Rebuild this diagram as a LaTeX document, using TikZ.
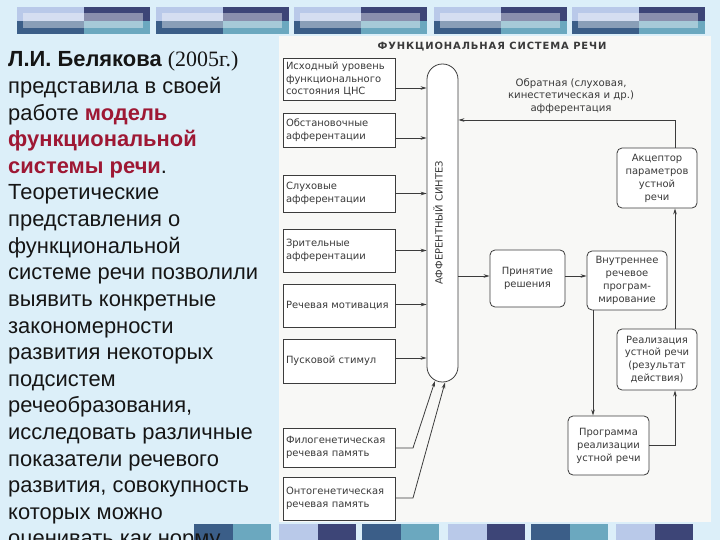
\documentclass[tikz,border=0pt]{standalone}
\usepackage{fontspec}
\setmainfont{Liberation Sans}
\newfontfamily\seriffont{Liberation Serif}
\newfontfamily\diafont{DejaVu Sans}
\newfontfamily\titlefont[LetterSpace=9]{DejaVu Sans}
\usetikzlibrary{arrows.meta,calc}
\definecolor{bgc}{HTML}{DCEFF9}
\definecolor{barlight}{HTML}{B9C9E9}
\definecolor{barnavy}{HTML}{3D4577}
\definecolor{bardark}{HTML}{3B5E88}
\definecolor{barteal}{HTML}{6BA8BF}
\definecolor{redtxt}{RGB}{158,24,52}
\definecolor{maintxt}{HTML}{151515}
\definecolor{linec}{HTML}{3C3C3C}
\definecolor{txtc}{HTML}{3A3A3A}
\definecolor{panel}{HTML}{F8F8F6}
\tikzset{
  dfont/.style={font=\diafont\fontsize{10}{13}\selectfont, text=txtc},
  lbox/.style={dfont, draw=linec, line width=0.8bp, fill=white, minimum width=112bp,
    text width=106bp, align=left, inner xsep=3bp, inner ysep=0pt},
  rbox/.style={dfont, draw=linec, line width=0.8bp, fill=white, rounded corners=5bp,
    align=center, inner sep=0pt},
  arr/.style={draw=linec, line width=0.8bp, -{Stealth[length=6bp,width=3.6bp]}},
  ln/.style={draw=linec, line width=0.8bp},
  mline/.style={anchor=base west, inner sep=0pt, text=maintxt,
    font=\fontsize{22}{26.6}\selectfont}
}
\begin{document}
\begin{tikzpicture}[x=1bp,y=-1bp]
\useasboundingbox (0,0) rectangle (720,540);
\fill[bgc] (0,0) rectangle (720,540);
% top bars
\foreach \x in {17,156,294,434,572}{
  \fill[barlight] (\x,7) rectangle ++(66.5,14);
  \fill[bardark] (\x,21) rectangle ++(66.5,13);
  \fill[barnavy] (\x+66.5,7) rectangle ++(66.5,14);
  \fill[barteal] (\x+66.5,21) rectangle ++(66.5,13);
  \fill[white,opacity=0.4] (\x+6,13) rectangle (\x+126,28);
}
% bottom bars
\foreach \x/\a/\b in {194/bardark/barteal,279/barlight/barnavy,362/bardark/barteal,
  448/barlight/barnavy,531/bardark/barteal,616/barlight/barnavy}{
  \fill[\a] (\x,524) rectangle ++(38.5,16);
  \fill[\b] (\x+38.5,524) rectangle ++(38.5,16);
}
% white panel
\fill[panel] (279,36) rectangle (711,522);

% left text
\node[mline] (t1) at (8,67) {\textbf{Л.И. Белякова} {\seriffont(2005г.)}};
\node[mline] (t2) at (8,93.6) {представила в своей};
\node[mline] (t3) at (8,120.2) {работе \textcolor{redtxt}{\textbf{модель}}};
\node[mline] (t4) at (8,146.8) {\textcolor{redtxt}{\textbf{функциональной}}};
\node[mline] (t5) at (8,173.4) {\textcolor{redtxt}{\textbf{системы речи}}.};
\node[mline] (t6) at (8,200) {Теоретические};
\node[mline] (t7) at (8,226.6) {представления о};
\node[mline] (t8) at (8,253.2) {функциональной};
\node[mline] (t9) at (8,279.8) {системе речи позволили};
\node[mline] (t10) at (8,306.4) {выявить конкретные};
\node[mline] (t11) at (8,333) {закономерности};
\node[mline] (t12) at (8,359.6) {развития некоторых};
\node[mline] (t13) at (8,386.2) {подсистем};
\node[mline] (t14) at (8,412.8) {речеобразования,};
\node[mline] (t15) at (8,439.4) {исследовать различные};
\node[mline] (t16) at (8,466) {показатели речевого};
\node[mline] (t17) at (8,492.6) {развития, совокупность};
\node[mline] (t18) at (8,519.2) {которых можно};
\node[mline] (t19) at (8,545.8) {оценивать как норму};

% title
\node[font=\titlefont\bfseries\fontsize{10}{12}\selectfont, text=txtc] (title) at (492,47) {ФУНКЦИОНАЛЬНАЯ СИСТЕМА РЕЧИ};

% left boxes
\node[lbox, minimum height=42bp] (b1) at (339,79) {Исходный уровень\\функционального\\состояния ЦНС};
\node[lbox, minimum height=34bp] (b2) at (339,130) {Обстановочные\\афферентации};
\node[lbox, minimum height=37bp] (b3) at (339,193.5) {Слуховые\\афферентации};
\node[lbox, minimum height=43bp] (b4) at (339,250.5) {Зрительные\\афферентации};
\node[lbox, minimum height=43bp] (b5) at (339,305.5) {Речевая мотивация};
\node[lbox, minimum height=44bp] (b6) at (339,361) {Пусковой стимул};
\node[lbox, minimum height=39bp] (b7) at (339,447.5) {Филогенетическая\\речевая память};
\node[lbox, minimum height=43bp] (b8) at (339,498.5) {Онтогенетическая\\речевая память};

% afferent synthesis capsule
\node[draw=linec, line width=0.8bp, fill=white, minimum width=31bp, minimum height=318bp,
  rounded corners=15.4bp, inner sep=0pt] (syn) at (442.5,223) {};
\node[rotate=90, font=\diafont\fontsize{10}{12}\selectfont, text=txtc] (syntxt) at (438,223) {АФФЕРЕНТНЫЙ СИНТЕЗ};

% right boxes
\node[rbox, minimum width=75bp, minimum height=57bp] (dec) at (527.5,278.5) {Принятие\\решения};
\node[rbox, minimum width=80bp, minimum height=59bp] (inner) at (627,280.5) {Внутреннее\\речевое\\програм-\\мирование};
\node[rbox, minimum width=80bp, minimum height=60bp] (acc) at (657,178) {Акцептор\\параметров\\устной\\речи};
\node[rbox, minimum width=80bp, minimum height=61bp] (real) at (657,359.5) {Реализация\\устной речи\\(результат\\действия)};
\node[rbox, minimum width=81bp, minimum height=59bp] (prog) at (608.5,445.5) {Программа\\реализации\\устной речи};

% feedback label
\node[dfont, align=center, font=\diafont\fontsize{10.2}{12.5}\selectfont] (fbl) at (571,96) {Обратная (слуховая,\\кинестетическая и др.)\\афферентация};

% helper coordinates
\coordinate (fx) at (675,0);
\coordinate (vx) at (593,0);
\coordinate (fb) at (0,120);
\coordinate (ay) at (0,276);
\coordinate (k7) at (413,448);
\coordinate (k8) at (413,498);
\coordinate (e7) at (435,381);
\coordinate (e8) at (445,382.5);

% arrows from left boxes into the synthesis
\draw[arr] ([yshift=-9bp]b1.east) -- ([yshift=-9bp]b1.east -| syn.west);
\draw[arr] ([yshift=-8bp]b2.east) -- ([yshift=-8bp]b2.east -| syn.west);
\draw[arr] (b3.east) -- (b3.east -| syn.west);
\draw[arr] (b4.east) -- (b4.east -| syn.west);
\draw[arr] ([yshift=1bp]b5.east) -- ([yshift=1bp]b5.east -| syn.west);
\draw[arr] ([yshift=3bp]b6.east) -- ([yshift=3bp]b6.east -| syn.west);
\draw[arr] (b7.east |- k7) -- (k7) -- (e7);
\draw[arr] (b8.east |- k8) -- (k8) -- (e8);

% main chain
\draw[arr] (syn.east |- ay) -- (dec.west |- ay);
\draw[arr] (dec.east |- ay) -- (inner.west |- ay);
\draw[arr] (inner.south -| vx) -- (prog.north -| vx);
\draw[arr] (prog.east) -| (real.south -| fx);
\draw[arr] (real.north -| fx) -- (acc.south -| fx);
\draw[arr] (acc.north -| fx) |- (syn.east |- fb);
\end{tikzpicture}
\end{document}
